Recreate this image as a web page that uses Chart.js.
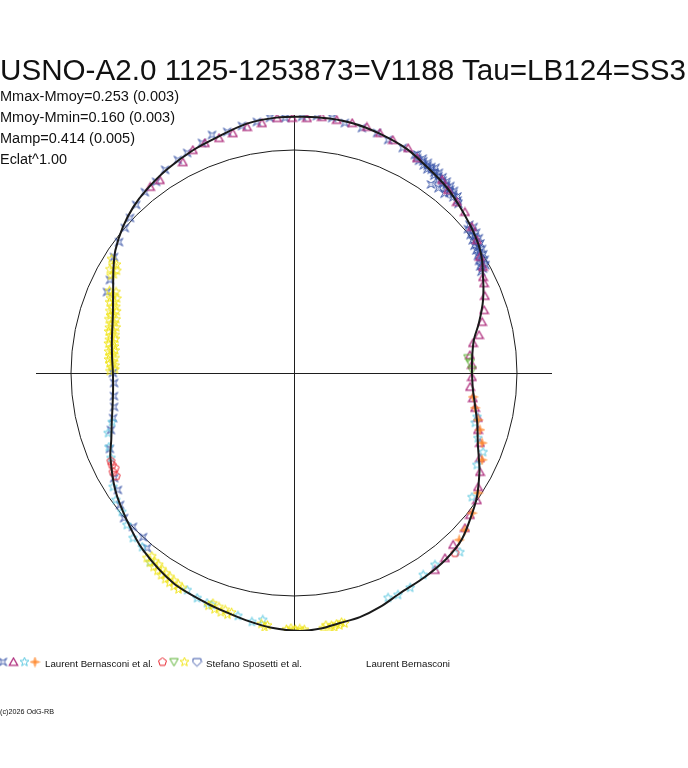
<!DOCTYPE html>
<html><head><meta charset="utf-8">
<script src="https://cdn.jsdelivr.net/npm/chart.js@4"></script>
<style>
html,body{margin:0;padding:0;background:#fff;}
#wrap{position:relative;width:688px;height:768px;overflow:hidden;background:#fff;}
#c{position:absolute;left:0;top:0;}
.t{position:absolute;white-space:nowrap;font-family:"Liberation Sans",Arial,sans-serif;color:#111;transform-origin:0 0;}
</style></head>
<body>
<div id="wrap">
<canvas id="c" width="688" height="768"></canvas>
<div class="t" data-x="0" data-base="80" data-size="30" data-w="686">USNO-A2.0 1125-1253873=V1188 Tau=LB124=SS3</div>
<div class="t" data-x="0" data-base="101.5" data-size="14" data-w="179">Mmax-Mmoy=0.253 (0.003)</div>
<div class="t" data-x="0" data-base="122" data-size="14" data-w="175">Mmoy-Mmin=0.160 (0.003)</div>
<div class="t" data-x="0" data-base="143.5" data-size="14" data-w="135">Mamp=0.414 (0.005)</div>
<div class="t" data-x="0" data-base="164.5" data-size="14" data-w="67">Eclat^1.00</div>
<div class="t" data-x="45" data-base="668" data-size="9" data-w="108">Laurent Bernasconi et al.</div>
<div class="t" data-x="206" data-base="668" data-size="9" data-w="96">Stefano Sposetti et al.</div>
<div class="t" data-x="366" data-base="668" data-size="9" data-w="84">Laurent Bernasconi</div>
<div class="t" data-x="0" data-base="714.5" data-size="6.5" data-w="54">(c)2026 OdG-RB</div>
</div>
<script>
// ---- DATA: phase angle (degrees, counter-clockwise from +x) and polar radius (reference circle = 1) ----
const curveAngle = [0,5,10.4,15,20,24,27.9,31,34.1,37,39.7,45,50.6,57.2,63.3,70.3,76,82,88,94,100.7,108.1,114.4,122.1,128.8,134.1,139.5,145.5,150,155.4,162,169.7,175,180,185.4,190,195,200,204.5,213.2,221.4,229.5,240.1,249.3,255,260,265,271.3,276,280.4,285.1,290.2,295.7,302.7,309.3,315.2,321.8,326,332,335,339,344.7,350,355,360];
const curveRadius = [0.798,0.802,0.820,0.858,0.900,0.930,0.958,0.984,1.004,1.018,1.030,1.053,1.078,1.100,1.125,1.140,1.150,1.152,1.150,1.148,1.138,1.112,1.097,1.076,1.055,1.036,1.009,0.972,0.935,0.892,0.854,0.830,0.819,0.812,0.815,0.826,0.846,0.872,0.905,0.958,0.999,1.043,1.086,1.104,1.117,1.132,1.147,1.157,1.152,1.140,1.134,1.118,1.096,1.087,1.078,1.060,1.017,0.990,0.942,0.915,0.883,0.852,0.824,0.805,0.798];

const blueAngle = [147.2,143.2,139.4,136.6,133.2,129.5,125.8,122.4,118.6,115.9,111.8,109.0,105.5,101.9,98.4,95.4,92.0,88.2,84.9,81.5,78.5,74.5,70.9,68.0,64.2,60.2,
 61.0,60.6,59.5,59.0,58.6,58.0,57.5,57.2,56.8,56.3,55.9,55.4,55.0,54.6,54.1,53.7,53.2,52.8,52.3,51.9,51.4,51.0,50.5,50.1,49.6,49.2,48.7,48.3,47.8,47.2,46.5,45.8,54.0,52.0,50.0,
 40.2,39.6,39.1,38.5,38.0,37.6,37.1,36.6,36.1,35.7,35.2,34.8,34.3,33.9,33.4,33.0,32.5,32.1,31.6,31.2,30.7,30.3,29.8,29.4,28.9,28.4,
 153.2,156.6,180.0,183.2,
 187.3,190.7,194.0,197.3,202.4,210.3,213.6,217.2,220.5,223.7,227.4,230.0];
const blueRadius = [0.960,0.980,0.999,1.012,1.034,1.051,1.057,1.079,1.088,1.097,1.111,1.129,1.122,1.132,1.138,1.149,1.144,1.149,1.157,1.156,1.144,1.140,1.139,1.127,1.121,1.111,
 1.118,1.125,1.105,1.121,1.112,1.098,1.117,1.106,1.092,1.110,1.101,1.118,1.097,1.086,1.108,1.095,1.081,1.102,1.090,1.077,1.098,1.085,1.073,1.093,1.080,1.068,1.087,1.074,1.064,1.079,1.066,1.058,1.045,1.052,1.050,
 1.030,1.012,1.038,1.020,1.005,1.031,1.016,0.998,1.026,1.008,0.990,1.018,1.000,0.985,1.010,0.992,0.978,1.002,0.984,0.970,0.995,0.977,0.962,0.986,0.968,0.955,
 0.925,0.914,0.812,0.808,
 0.814,0.821,0.836,0.860,0.893,0.934,0.948,0.979,1.002,0.999,1.000,1.025];

const triangleAngle = [127.7,124.8,117.8,114.4,111.2,107.7,104.3,100.8,97.3,93.8,90.4,87.1,83.8,80.4,76.9,73.5,70.3,67.0,63.1,60.2,52.5,49.9,46.4,43.3,39.4,36.0,32.0,29.3,26.9,25.3,22.0,18.3,15.2,11.6,9.5,5.8,2.6,358.7,355.5,352.0,349.1,346.3,342.8,339.4,335.4,332.0,328.2,325.2,321.1,317.8,312.8,309.2,305.6];
const triangleRadius = [1.055,1.054,1.069,1.098,1.106,1.106,1.110,1.123,1.130,1.146,1.144,1.145,1.155,1.151,1.151,1.151,1.143,1.135,1.131,1.111,1.091,1.073,1.059,1.053,1.032,1.014,0.983,0.972,0.951,0.943,0.923,0.898,0.874,0.847,0.814,0.793,0.799,0.798,0.792,0.810,0.827,0.849,0.864,0.891,0.917,0.945,0.971,0.999,1.014,1.035,1.050,1.071,1.086];

const cyanAngle = [195.1,197.9,201.8,204.9,212.2,215.5,218.9,222.3,225.7,228.9,232.7,243.8,246.7,249.3,250.5,257.0,260.4,262.8,292.7,295.1,298.4,302.6,306.3,312.8,325.1,333.3,337.3,340.5,344.6,346.5];
const cyanRadius = [0.845,0.876,0.894,0.905,0.959,0.981,0.992,1.013,1.034,1.036,1.066,1.085,1.099,1.103,1.104,1.118,1.132,1.116,1.093,1.099,1.095,1.075,1.068,1.095,0.973,0.918,0.919,0.875,0.842,0.844];

const orangeAngle = [352.4,349.1,345.7,343.0,339.6,335.2,326.9,321.8,317.4,314.7];
const orangeRadius = [0.810,0.827,0.852,0.872,0.900,0.929,0.985,1.016,1.041,1.053];

const redAngle = [205.7,206.8,208.0,208.7,210.1,311.8];
const redRadius = [0.911,0.914,0.909,0.925,0.922,1.083];

const greenAngle = [4.9,3.3,1.0];
const greenRadius = [0.783,0.791,0.798];

const yellowAngle = [148.0,148.6,149.3,150.0,150.6,151.3,152.0,155.5,156.0,156.6,157.2,157.8,158.4,159.0,159.6,160.2,160.8,161.4,162.0,162.6,163.2,163.8,164.4,165.0,165.6,166.2,166.8,167.4,168.0,168.6,169.2,169.8,170.4,171.0,171.6,172.2,172.8,173.4,174.0,174.6,175.2,175.8,176.4,177.0,177.6,178.2,178.8,179.4,
 231.5,232.2,232.8,233.5,234.1,234.8,235.4,236.1,236.7,237.4,238.0,238.7,239.3,240.0,240.6,241.3,241.9,242.6,
 249.8,250.6,251.4,252.2,253.0,253.8,254.6,255.4,
 262.6,263.4,264.0,
 268.3,268.8,269.3,269.8,270.3,270.8,271.3,271.8,272.3,
 276.5,277.2,277.8,278.4,279.0,279.6,280.2,280.8,281.4];
const yellowRadius = [0.965,0.933,0.944,0.917,0.948,0.921,0.929,0.877,0.906,0.884,0.861,0.889,0.866,0.886,0.852,0.868,0.842,0.872,0.850,0.862,0.833,0.865,0.837,0.849,0.823,0.853,0.833,0.852,0.820,0.839,0.815,0.842,0.822,0.843,0.814,0.829,0.808,0.837,0.815,0.830,0.805,0.834,0.813,0.828,0.803,0.820,0.803,0.826,
 1.060,1.040,1.068,1.050,1.074,1.052,1.078,1.060,1.085,1.066,1.090,1.070,1.094,1.076,1.098,1.080,1.100,1.086,
 1.112,1.095,1.118,1.102,1.122,1.106,1.124,1.110,
 1.135,1.148,1.138,
 1.150,1.162,1.145,1.158,1.150,1.163,1.148,1.158,1.152,
 1.152,1.140,1.158,1.146,1.155,1.142,1.150,1.138,1.146];

const axisHalfLength = 1.157;
const referenceRadius = 1;

// ---- helpers ----
function toPoints(angles, radii){
  return angles.map((a,i)=>({x: radii[i]*Math.cos(a*Math.PI/180), y: radii[i]*Math.sin(a*Math.PI/180)}));
}
function marker(kind, color){
  const s=11, c=document.createElement('canvas'); c.width=s; c.height=s;
  const g=c.getContext('2d'); g.strokeStyle=color; g.lineWidth=1; g.lineJoin='miter';
  g.translate(s/2, s/2);
  g.beginPath();
  const poly=(n,ro,ri,rot)=>{ for(let i=0;i<(ri?2*n:n);i++){ const r=ri?(i%2?ri:ro):ro; const a=rot+i*Math.PI/(ri?n:n/2); const x=r*Math.cos(a), y=r*Math.sin(a); i?g.lineTo(x,y):g.moveTo(x,y);} g.closePath(); };
  if(kind==='hourglass'){ const a=3.8,b=1.5; g.moveTo(-a,-a); g.lineTo(0,-b); g.lineTo(a,-a); g.lineTo(b,0); g.lineTo(a,a); g.lineTo(0,b); g.lineTo(-a,a); g.lineTo(-b,0); g.closePath(); }
  else if(kind==='triangle'){ g.lineWidth=1.3; g.moveTo(0,-4); g.lineTo(4.2,3.4); g.lineTo(-4.2,3.4); g.closePath(); }
  else if(kind==='downtriangle'){ g.moveTo(0,4); g.lineTo(4.2,-3.4); g.lineTo(-4.2,-3.4); g.closePath(); }
  else if(kind==='star5'){ poly(5,4.7,2,-Math.PI/2); }
  else if(kind==='star4'){ poly(4,4.7,1.4,-Math.PI/2); g.moveTo(-2,0); g.lineTo(2,0); g.moveTo(0,-2); g.lineTo(0,2); }
  else if(kind==='pentagon'){ poly(5,4.2,0,-Math.PI/2); }
  else if(kind==='shield'){ g.moveTo(-3.8,-3.4); g.lineTo(3.8,-3.4); g.lineTo(4.3,0); g.lineTo(0,4.3); g.lineTo(-4.3,0); g.closePath(); }
  g.stroke();
  return c;
}
const COL = {blue:'#3a55a8', magenta:'#b0307f', cyan:'#5cc8e0', orange:'#ff8a30', red:'#e8202a', green:'#58b030', yellow:'#f0e418'};
const M = {
  hourglass: marker('hourglass', COL.blue), triangle: marker('triangle', COL.magenta),
  cyanStar: marker('star5', COL.cyan), orangeStar: marker('star4', COL.orange),
  pentagon: marker('pentagon', COL.red), downTri: marker('downtriangle', COL.green),
  yellowStar: marker('star5', COL.yellow), shield: marker('shield', COL.blue)
};

function markerSet(label, angles, radii, style){
  return {label, data: toPoints(angles, radii), showLine:false, pointStyle: style, pointRadius:5, pointHoverRadius:5};
}

const backdrop = {
  id:'backdrop',
  beforeDatasetsDraw(chart){
    const {ctx, scales:{x,y}} = chart;
    const cx=x.getPixelForValue(0), cy=y.getPixelForValue(0);
    ctx.save();
    ctx.strokeStyle='#1e1e1e'; ctx.lineWidth=1;
    ctx.beginPath();
    ctx.moveTo(x.getPixelForValue(-axisHalfLength), Math.round(cy)+0.5);
    ctx.lineTo(x.getPixelForValue(axisHalfLength), Math.round(cy)+0.5);
    ctx.moveTo(Math.round(cx)+0.5, y.getPixelForValue(axisHalfLength));
    ctx.lineTo(Math.round(cx)+0.5, y.getPixelForValue(-axisHalfLength));
    ctx.stroke();
    const rp = x.getPixelForValue(referenceRadius)-cx;
    ctx.beginPath(); ctx.arc(cx, cy, rp, 0, Math.PI*2); ctx.stroke();
    ctx.restore();
  },
  afterDraw(chart){
    const ctx=chart.ctx, yL=662;
    const items=[[M.hourglass,3],[M.triangle,13.5],[M.cyanStar,24.5],[M.orangeStar,35],[M.pentagon,162.5],[M.downTri,174],[M.yellowStar,184.5],[M.shield,197]];
    items.forEach(([img,xc])=>ctx.drawImage(img, xc-img.width/2, yL-img.height/2));
  }
};

new Chart(document.getElementById('c'), {
  type:'scatter',
  data:{datasets:[
    {label:'Laurent Bernasconi', data: toPoints(curveAngle, curveRadius), showLine:true, borderColor:'#1a1a1a', borderWidth:2, pointRadius:0, tension:0.3, fill:false},
    markerSet('Stefano Sposetti et al. (yellow)', yellowAngle, yellowRadius, M.yellowStar),
    markerSet('Stefano Sposetti et al. (green)', greenAngle, greenRadius, M.downTri),
    markerSet('Stefano Sposetti et al. (red)', redAngle, redRadius, M.pentagon),
    markerSet('Laurent Bernasconi et al. (orange)', orangeAngle, orangeRadius, M.orangeStar),
    markerSet('Laurent Bernasconi et al. (cyan)', cyanAngle, cyanRadius, M.cyanStar),
    markerSet('Laurent Bernasconi et al. (magenta)', triangleAngle, triangleRadius, M.triangle),
    markerSet('Laurent Bernasconi et al. (blue)', blueAngle, blueRadius, M.hourglass)
  ]},
  options:{
    responsive:false, devicePixelRatio:1, animation:false, events:[],
    layout:{padding:{left:36, right:136, top:115, bottom:137}},
    scales:{
      x:{type:'linear', min:-axisHalfLength, max:axisHalfLength, display:false},
      y:{type:'linear', min:-axisHalfLength, max:axisHalfLength, display:false}
    },
    plugins:{legend:{display:false}, tooltip:{enabled:false}, title:{display:false}}
  },
  plugins:[backdrop]
});

// ---- text placement ----
document.querySelectorAll('.t').forEach(el=>{
  const size=+el.dataset.size, base=+el.dataset.base, w=+el.dataset.w;
  const lh=Math.round(size*1.2);
  el.style.fontSize=size+'px';
  el.style.lineHeight=lh+'px';
  el.style.left=el.dataset.x+'px';
  el.style.top=(base-((lh-1.117*size)/2+0.905*size))+'px';
  const r=el.getBoundingClientRect().width;
  el.style.transform='scaleX('+(w/r)+')';
});
</script>
</body></html>
